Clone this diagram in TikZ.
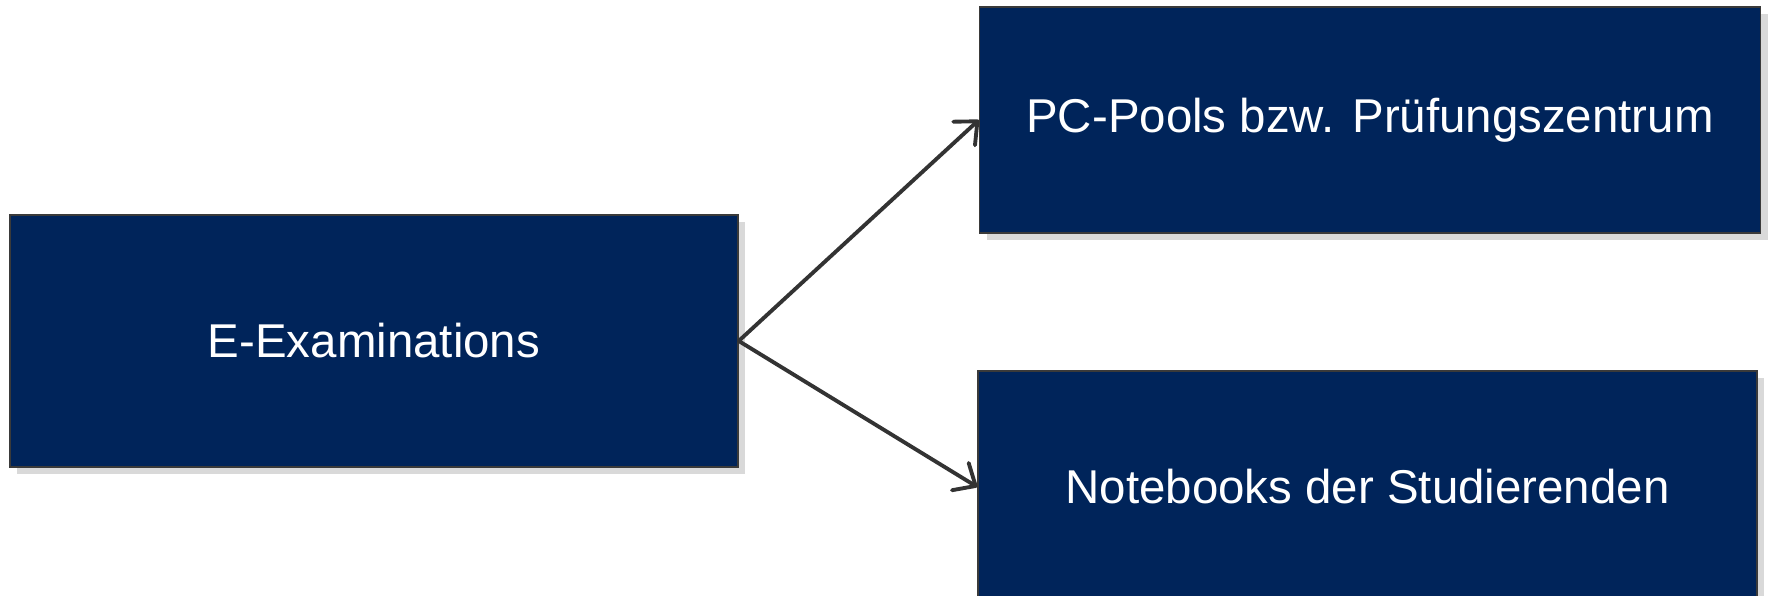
\documentclass[tikz,border=0pt]{standalone}
\usepackage{fontspec}
\setmainfont{Liberation Sans}
\usetikzlibrary{arrows.meta,positioning,shadows}
\definecolor{exnavy}{HTML}{00245A}
\definecolor{exedge}{HTML}{3A3A3A}
\definecolor{exarrow}{HTML}{333333}

\tikzset{
  exbox/.style={rectangle, draw=exedge, line width=0.4pt, fill=exnavy,
    text=white, font=\fontsize{13.5}{16}\selectfont, align=center,
    drop shadow={shadow xshift=2pt, shadow yshift=-2pt, opacity=0.25, fill=black!60}},
  exarrowline/.style={draw=exarrow, line width=1.1pt, line cap=round,
    -{Straight Barb[length=1.8mm,width=3.2mm,round]}}
}

\begin{document}
\begin{tikzpicture}
\useasboundingbox (0,0) rectangle (17.68,5.96);

\node[exbox, minimum width=7.28cm, minimum height=2.52cm] (exam) at (3.74,2.55) {E-Examinations};
\node[exbox, minimum width=7.81cm, minimum height=2.26cm] (pool) at (13.70,4.76) {PC-Pools bzw. Prüfungszentrum};
\node[exbox, minimum width=7.79cm, minimum height=2.32cm] (note) at (13.675,1.09) {Notebooks der Studierenden};

\draw[exarrowline] (exam.east) -- (pool.west);
\draw[exarrowline] (exam.east) -- (note.west);
\end{tikzpicture}
\end{document}
